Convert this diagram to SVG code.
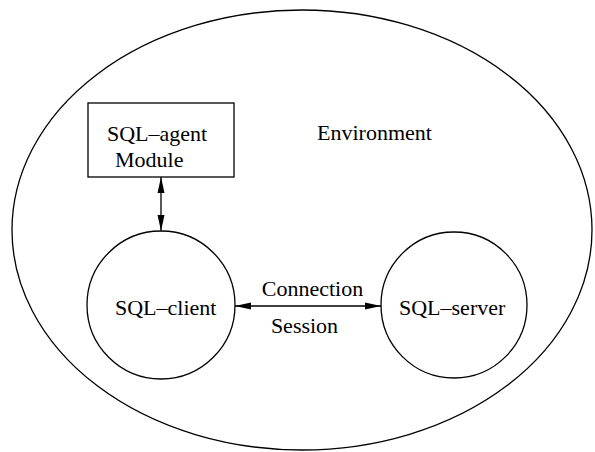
<svg xmlns="http://www.w3.org/2000/svg" width="595" height="452" viewBox="0 0 595 452">
<style>
.s{fill:none;stroke:#000;stroke-width:1.3}
text{font-family:"Liberation Serif","Times New Roman",serif;font-size:22px;fill:#000}
.c{stroke:#000;stroke-width:1.3;fill:none}
</style>
<defs>
<marker id="ah" viewBox="0 0 16 8" refX="16" refY="4" markerWidth="16" markerHeight="8" markerUnits="userSpaceOnUse" orient="auto-start-reverse">
<path d="M0,0.5 L16,4 L0,7.5 z" fill="#000"/>
</marker>
</defs>
<rect width="595" height="452" fill="#fff"/>
<g id="environment">
<ellipse class="s" cx="302" cy="230" rx="290" ry="220"/>
<text x="317" y="140">Environment</text>
</g>
<g id="agent">
<rect class="s" x="88" y="103" width="146" height="74"/>
<text x="107" y="141">SQL–agent</text>
<text x="115" y="167">Module</text>
</g>
<g id="client">
<circle class="s" cx="161" cy="305" r="74"/>
<text x="115" y="315">SQL–client</text>
</g>
<g id="server">
<circle class="s" cx="454" cy="305" r="73"/>
<text x="399" y="315">SQL–server</text>
</g>
<g id="connectors">
<line class="c" x1="161" y1="177" x2="161" y2="231" marker-start="url(#ah)" marker-end="url(#ah)"/>
<line class="c" x1="235" y1="306" x2="381" y2="306" marker-start="url(#ah)" marker-end="url(#ah)"/>
<text x="312.5" y="296" text-anchor="middle">Connection</text>
<text x="304.5" y="333" text-anchor="middle">Session</text>
</g>
</svg>
